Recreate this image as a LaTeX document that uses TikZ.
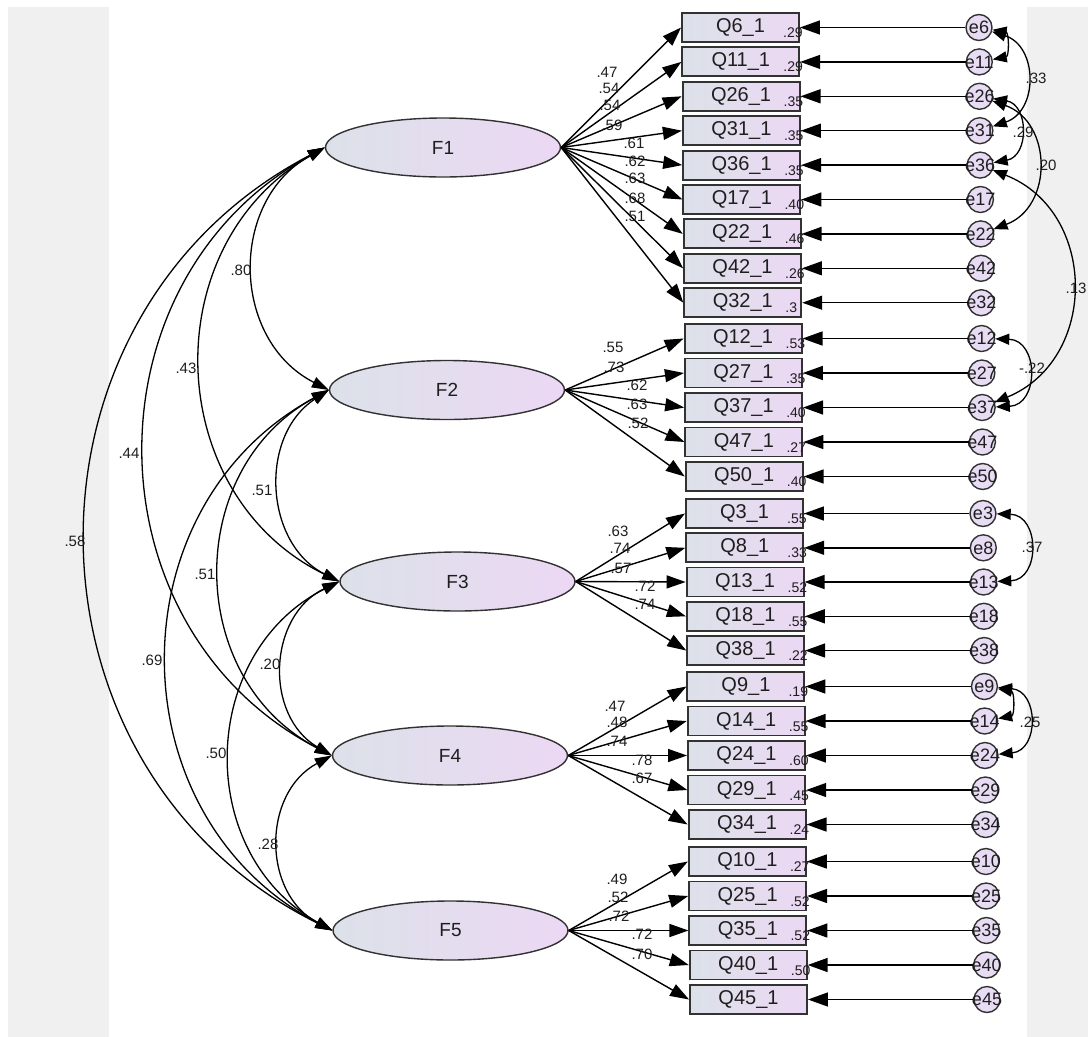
\documentclass[tikz,border=0pt]{standalone}
\usepackage{fontspec}
\setmainfont{Liberation Sans}
\usetikzlibrary{arrows.meta,shapes.geometric,calc}

\definecolor{panel}{RGB}{240,240,240}
\definecolor{fillL}{RGB}{220,225,233}
\definecolor{fillR}{RGB}{236,216,244}
\definecolor{errfill}{RGB}{232,220,244}
\definecolor{edge}{RGB}{50,50,50}
\definecolor{txt}{RGB}{30,30,30}

\tikzset{
  latent/.style={ellipse, draw=edge, line width=1.4pt, left color=fillL, right color=fillR,
    minimum width=235pt, minimum height=59pt, inner sep=0pt,
    font=\fontsize{19}{19}\selectfont, text=txt},
  item/.style={rectangle, draw=edge, line width=1.9pt, left color=fillL, right color=fillR,
    minimum width=117pt, minimum height=29pt, inner sep=0pt,
    font=\fontsize{20}{20}\selectfont, text=txt},
  err/.style={circle, draw=edge, line width=1.4pt, fill=errfill, minimum size=26pt,
    inner sep=0pt, font=\fontsize{18}{18}\selectfont, text=txt},
  est/.style={font=\fontsize{15}{15}\selectfont, text=txt, inner sep=0pt},
  rsq/.style={font=\fontsize{14}{14}\selectfont, text=txt, inner sep=0pt, anchor=base west},
  load/.style={line width=1.4pt, -{Triangle[length=19pt,width=13pt]}},
  resid/.style={line width=1.4pt, -{Triangle[length=20pt,width=14pt]}},
  cov/.style={line width=1.3pt, {Triangle[length=17pt,width=11pt]}-{Triangle[length=17pt,width=11pt]}},
  ecov/.style={line width=1.3pt, {Triangle[length=14pt,width=11pt]}-{Triangle[length=14pt,width=11pt]}},
}

\begin{document}
\begin{tikzpicture}[x=1pt,y=-1pt]
\useasboundingbox (0,0) rectangle (1088,1037);
% side panels
\fill[panel] (8,7) rectangle (109,1037);
\fill[panel] (1027,7) rectangle (1088,1037);

% latent factors
\node[latent] (F1) at (443,147.5) {F1};
\node[latent] (F2) at (447,390) {F2};
\node[latent] (F3) at (457.5,581.5) {F3};
\node[latent] (F4) at (450,755.5) {F4};
\node[latent] (F5) at (450.5,930.5) {F5};

% indicators, residuals, squared multiple correlations
\foreach \r/\n/\rs/\y in {0/6/.29/27.5, 1/11/.29/61.9, 2/26/.35/96.3, 3/31/.35/130.7,
    4/36/.35/165.1, 5/17/.40/199.5, 6/22/.46/233.9, 7/42/.26/268.3, 8/32/.3/302.7,
    9/12/.53/338.5, 10/27/.35/373, 11/37/.40/407.5, 12/47/.27/442, 13/50/.40/476.5,
    14/3/.55/513.5, 15/8/.33/547.8, 16/13/.52/582, 17/18/.55/616.3, 18/38/.22/650.5,
    19/9/.19/686.5, 20/14/.55/721, 21/24/.60/755.5, 22/29/.45/790, 23/34/.24/824.5,
    24/10/.27/861.5, 25/25/.52/896, 26/35/.52/930.5, 27/40/.50/965, 28/45//999.5}{
  \pgfmathsetmacro\bx{740.5+8*\r/28}
  \pgfmathsetmacro\ex{979+8*\r/28}
  \node[item] (q\n) at (\bx,\y) {Q\n\_1};
  \node[err] (e\n) at (\ex,\y) {\makebox[0pt]{e\n}};
  \node[rsq] at ($(q\n.east)+(-17,10)$) {\rs};
  \draw[resid] (e\n) -- (q\n.east);
}

% factor loadings
\foreach \n in {6,11,26,31,36,17,22,42,32} \draw[load] (F1.east) -- (q\n.west);
\foreach \n in {12,27,37,47,50} \draw[load] (F2.east) -- (q\n.west);
\foreach \n in {3,8,13,18,38} \draw[load] (F3.east) -- (q\n.west);
\foreach \n in {9,14,24,29,34} \draw[load] (F4.east) -- (q\n.west);
\foreach \n in {10,25,35,40,45} \draw[load] (F5.east) -- (q\n.west);

\foreach \x/\y/\v in {607/72/.47, 609/88/.54, 610/105/.54, 612/125/.59, 634/143/.61,
    635/161/.62, 635/178/.63, 635/198/.68, 635/216/.51,
    613/347/.55, 614/367/.73, 637/385/.62, 637/404/.63, 638/423/.52,
    618/531/.63, 620/548/.74, 621/568/.57, 645/586/.72, 645/604/.74,
    615/706/.47, 617/722/.48, 617/741/.74, 642/760/.78, 642/778/.67,
    617/879/.49, 618/897/.52, 619/916/.72, 642/934/.72, 642/954/.70}
  \node[est] at (\x,\y) {\v};

% factor covariances
\draw[cov] (F1.west) to[bend right=62, looseness=1.16] (F2.west);
\draw[cov] (F1.west) to[bend right=62, looseness=1.16] (F3.west);
\draw[cov] (F1.west) to[bend right=62, looseness=1.16] (F4.west);
\draw[cov] (F1.west) to[bend right=63, looseness=1.18] (F5.west);
\draw[cov] (F2.west) to[bend right=60, looseness=1.12] (F3.west);
\draw[cov] (F2.west) to[bend right=62, looseness=1.16] (F4.west);
\draw[cov] (F2.west) to[bend right=62, looseness=1.16] (F5.west);
\draw[cov] (F3.west) to[bend right=62, looseness=1.16] (F4.west);
\draw[cov] (F3.west) to[bend right=62, looseness=1.16] (F5.west);
\draw[cov] (F4.west) to[bend right=62, looseness=1.16] (F5.west);

\node[est] at (241,270) {.80};
\node[est] at (186,368) {.43};
\node[est] at (129,453) {.44};
\node[est] at (75,541) {.58};
\node[est] at (262,490) {.51};
\node[est] at (205,574) {.51};
\node[est] at (152,660) {.69};
\node[est] at (270,664) {.20};
\node[est] at (216,753) {.50};
\node[est] at (268,844) {.28};

% residual covariances
\draw[ecov] (e6) to[bend left=80, looseness=1.45] (e11);
\draw[ecov] (e6) to[bend left=72, looseness=1.30] (e31);
\draw[ecov] (e26) to[bend left=80, looseness=1.45] (e36);
\draw[ecov] (e26) to[bend left=70, looseness=1.27] (e22);
\draw[ecov] (e36) to[bend left=68, looseness=1.24] (e37);
\draw[ecov] (e12) to[bend left=88, looseness=1.64] (e37);
\draw[ecov] (e3) to[bend left=88, looseness=1.64] (e13);
\draw[ecov] (e9) to[bend left=80, looseness=1.45] (e14);
\draw[ecov] (e9) to[bend left=85, looseness=1.57] (e24);

\node[est] at (1036,78) {.33};
\node[est] at (1023,132) {.29};
\node[est] at (1046,165) {.20};
\node[est] at (1076,288) {.13};
\node[est] at (1032,368) {-.22};
\node[est] at (1032,547) {.37};
\node[est] at (1030,722) {.25};
\end{tikzpicture}
\end{document}
